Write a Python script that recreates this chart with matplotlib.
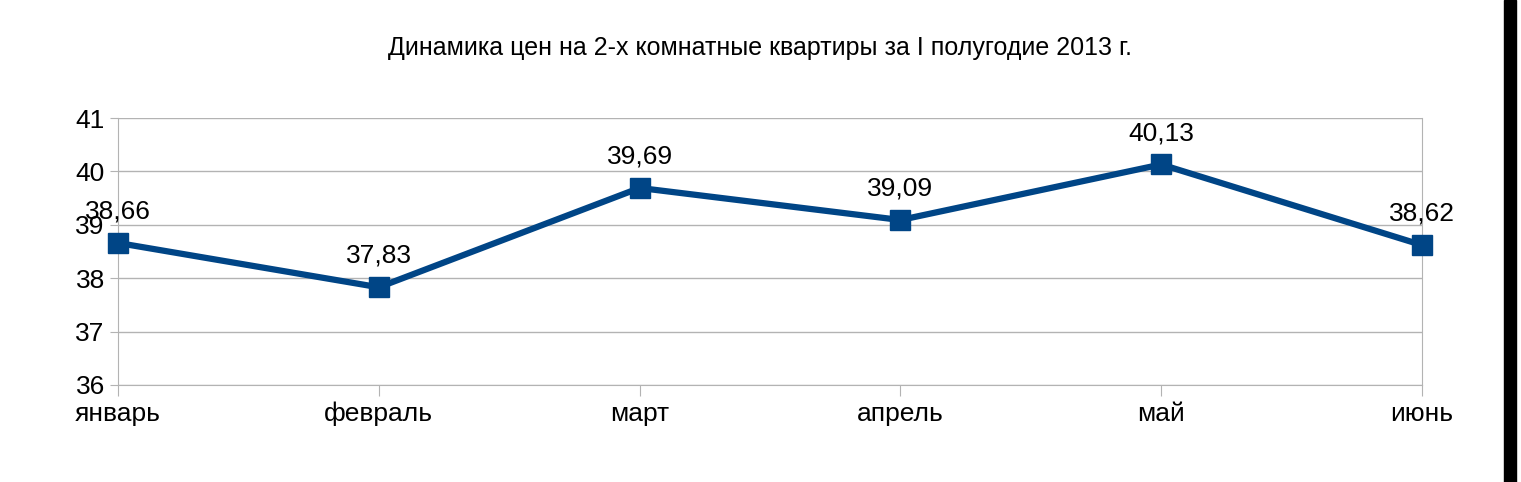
import matplotlib
matplotlib.use("Agg")
import matplotlib.pyplot as plt
from matplotlib.patches import Rectangle

months = ["январь", "февраль", "март", "апрель", "май", "июнь"]
prices = [38.66, 37.83, 39.69, 39.09, 40.13, 38.62]
yticks = [36, 37, 38, 39, 40, 41]
title = "Динамика цен на 2-х комнатные квартиры за I полугодие 2013 г."

fig = plt.figure(figsize=(15.21, 4.82), dpi=100)
plt.rcParams["font.family"] = "Liberation Sans"
ax = fig.add_axes([118/1521, 1-385/482, (1422-118)/1521, (385-118)/482])
x = list(range(len(months)))
ax.plot(x, prices, color="#004586", lw=4.5, marker="s", ms=14, clip_on=False, zorder=3)
for xi, v in zip(x, prices):
    ax.annotate(f"{v:.2f}".replace(".", ","), (xi, v), xytext=(0, 14), textcoords="offset points",
                ha="center", va="bottom", fontsize=19)
ax.set_xlim(0, 5)
ax.set_ylim(36, 41)
ax.set_yticks(yticks)
ax.set_xticks(x)
ax.set_xticklabels(months, fontsize=19)
ax.tick_params(axis="y", labelsize=19, color="#b3b3b3", length=6)
ax.tick_params(axis="x", color="#b3b3b3", length=8, pad=4)
ax.grid(axis="y", color="#b3b3b3", lw=1)
for s in ["top"]:
    ax.spines[s].set_visible(False)
for s in ["left", "bottom", "right"]:
    ax.spines[s].set_color("#b3b3b3")
fig.text(0.5, 1-48/482, title, ha="center", va="center", fontsize=18)
fig.patches.append(Rectangle((1504/1521, 0), 12/1521, 1, transform=fig.transFigure, color="black"))
fig.savefig("out.png", dpi=100)
